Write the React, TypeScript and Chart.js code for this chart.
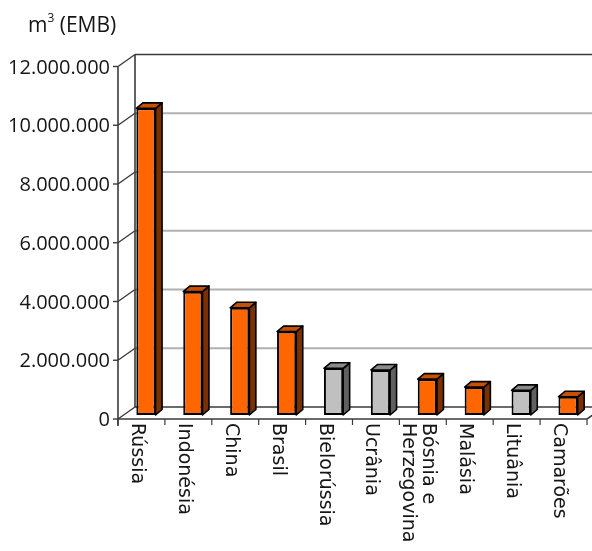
import React, { useEffect, useRef } from 'react';
import { Chart, registerables } from 'chart.js';

Chart.register(...registerables);

// ---- data ----
const categories = ['Rússia', 'Indonésia', 'China', 'Brasil', 'Bielorússia', 'Ucrânia', 'Bósnia e Herzegovina', 'Malásia', 'Lituânia', 'Camarões'];
const categoryLabelLines = [['Rússia'], ['Indonésia'], ['China'], ['Brasil'], ['Bielorússia'], ['Ucrânia'], ['Bósnia e', 'Herzegovina'], ['Malásia'], ['Lituânia'], ['Camarões']];
const volumes = [10440000, 4200000, 3650000, 2840000, 1590000, 1530000, 1220000, 950000, 840000, 620000];
const greyCategories = ['Bielorússia', 'Ucrânia', 'Lituânia'];
const yTickValues = [0, 2000000, 4000000, 6000000, 8000000, 10000000, 12000000];
const yTickLabels = ['0', '2.000.000', '4.000.000', '6.000.000', '8.000.000', '10.000.000', '12.000.000'];
const yMax = 12000000;
const titleBase = 'm';
const titleSup = '3';
const titleRest = ' (EMB)';

// ---- styles ----
const FONT = '"Open Sans", "DejaVu Sans", sans-serif';
const XFONT = '"DejaVu Sans", "Open Sans", sans-serif';
const TEXT_COLOR = '#151515';
const WALL_DX = 17;
const WALL_DY = -12;
const BAR_OFF_X = 4.5;
const BAR_OFF_Y = -4;
const BAR_DX = 6.5;
const BAR_DY = -5.5;
const ORANGE = { front: '#ff6600', side: '#7a3000', top: '#c85000' };
const GREY = { front: '#c0c0c0', side: '#606060', top: '#8a8a8a' };

function line(ctx: CanvasRenderingContext2D, x1: number, y1: number, x2: number, y2: number) {
  ctx.beginPath();
  ctx.moveTo(x1, y1);
  ctx.lineTo(x2, y2);
  ctx.stroke();
}

const threeDPlugin = {
  id: 'threeD',
  beforeDatasetsDraw(chart: any) {
    const { ctx, chartArea, scales } = chart;
    const { left, right, bottom } = chartArea;
    const x = scales.x;
    const y = scales.y;
    ctx.save();
    // back wall grid lines
    yTickValues.forEach((v) => {
      const py = y.getPixelForValue(v);
      const edge = v === 0 || v === yMax;
      ctx.strokeStyle = edge ? '#3a3a3a' : '#b0b0b0';
      ctx.lineWidth = edge ? 1.6 : 2;
      line(ctx, left + WALL_DX, py + WALL_DY, chart.width, py + WALL_DY);
    });
    ctx.strokeStyle = '#3a3a3a';
    ctx.lineWidth = 1.4;
    yTickValues.forEach((v) => {
      const py = y.getPixelForValue(v);
      line(ctx, left, py, left + WALL_DX, py + WALL_DY);
      line(ctx, left - 5, py, left, py);
    });
    // back wall vertical
    ctx.lineWidth = 1.6;
    line(ctx, left + WALL_DX, y.getPixelForValue(yMax) + WALL_DY, left + WALL_DX, bottom + WALL_DY);
    // front axis
    line(ctx, left, y.getPixelForValue(yMax), left, bottom + 7);
    // front floor
    line(ctx, left, bottom, right, bottom);
    line(ctx, right, bottom, right + WALL_DX, bottom + WALL_DY);
    // x tick marks
    ctx.lineWidth = 1.2;
    for (let i = 0; i <= categories.length; i++) {
      const bx = x.getPixelForValue(i - 0.5);
      line(ctx, bx, bottom, bx, bottom + 6);
    }
    ctx.restore();
    ctx.save();
    ctx.translate(BAR_OFF_X, BAR_OFF_Y);
  },
  afterDatasetsDraw(chart: any) {
    const { ctx } = chart;
    const meta = chart.getDatasetMeta(0);
    meta.data.forEach((bar: any, i: number) => {
      const { x, y, base, width } = bar.getProps(['x', 'y', 'base', 'width'], true);
      const l = x - width / 2;
      const r = x + width / 2;
      const pal = greyCategories.includes(categories[i]) ? GREY : ORANGE;
      ctx.lineWidth = 1.6;
      ctx.strokeStyle = '#000';
      ctx.lineJoin = 'round';
      // side
      ctx.beginPath();
      ctx.moveTo(r, y);
      ctx.lineTo(r + BAR_DX, y + BAR_DY);
      ctx.lineTo(r + BAR_DX, base + BAR_DY);
      ctx.lineTo(r, base);
      ctx.closePath();
      ctx.fillStyle = pal.side;
      ctx.fill();
      ctx.stroke();
      // top
      ctx.beginPath();
      ctx.moveTo(l, y);
      ctx.lineTo(l + BAR_DX, y + BAR_DY);
      ctx.lineTo(r + BAR_DX, y + BAR_DY);
      ctx.lineTo(r, y);
      ctx.closePath();
      ctx.fillStyle = pal.top;
      ctx.fill();
      ctx.stroke();
    });
    ctx.restore();
  },
  afterDraw(chart: any) {
    const { ctx, chartArea, scales } = chart;
    const { left, bottom } = chartArea;
    const x = scales.x;
    const y = scales.y;
    ctx.save();
    ctx.fillStyle = TEXT_COLOR;
    // y tick labels
    ctx.font = `20px ${FONT}`;
    ctx.textAlign = 'right';
    ctx.textBaseline = 'alphabetic';
    yTickValues.forEach((v, i) => {
      const py = y.getPixelForValue(v);
      ctx.fillText(yTickLabels[i], left - 8, py + 7);
    });
    // x labels, rotated
    ctx.font = `19px ${XFONT}`;
    ctx.textAlign = 'left';
    categoryLabelLines.forEach((lines, i) => {
      const cx = x.getPixelForValue(i);
      lines.forEach((txt, j) => {
        const bx = cx - 9.5 + (lines.length - 1) * 10 - j * 20;
        ctx.save();
        ctx.translate(bx, bottom + 4);
        ctx.rotate(Math.PI / 2);
        ctx.fillText(txt, 0, 0);
        ctx.restore();
      });
    });
    // title
    ctx.font = `21px ${FONT}`;
    let tx = 28;
    ctx.fillText(titleBase, tx, 32);
    tx += ctx.measureText(titleBase).width;
    ctx.font = `12px ${FONT}`;
    ctx.fillText(titleSup, tx, 22);
    tx += ctx.measureText(titleSup).width;
    ctx.font = `21px ${FONT}`;
    ctx.fillText(titleRest, tx, 32);
    ctx.restore();
  },
};

export default function App() {
  const canvasRef = useRef<HTMLCanvasElement | null>(null);
  useEffect(() => {
    if (!canvasRef.current) return;
    const colors = categories.map((c) => (greyCategories.includes(c) ? GREY.front : ORANGE.front));
    const chart = new Chart(canvasRef.current, {
      type: 'bar',
      data: {
        labels: categories,
        datasets: [
          {
            data: volumes,
            backgroundColor: colors,
            borderColor: '#000',
            borderWidth: 2,
            borderSkipped: false,
            barPercentage: 0.41,
            categoryPercentage: 1,
          },
        ],
      },
      options: {
        responsive: false,
        animation: false,
        devicePixelRatio: 1,
        layout: { padding: { left: 118, top: 66.5, right: 5, bottom: 132 } },
        plugins: { legend: { display: false }, tooltip: { enabled: false } },
        scales: {
          x: { type: 'category', offset: true, display: false },
          y: { min: 0, max: yMax, display: false, ticks: { stepSize: 2000000 } },
        },
      },
      plugins: [threeDPlugin],
    });
    return () => chart.destroy();
  }, []);
  return (
    <div style={{ position: 'fixed', left: 0, top: 0, width: 592, height: 551, background: '#fff' }}>
      <canvas ref={canvasRef} width={592} height={551} style={{ display: 'block' }} />
    </div>
  );
}
